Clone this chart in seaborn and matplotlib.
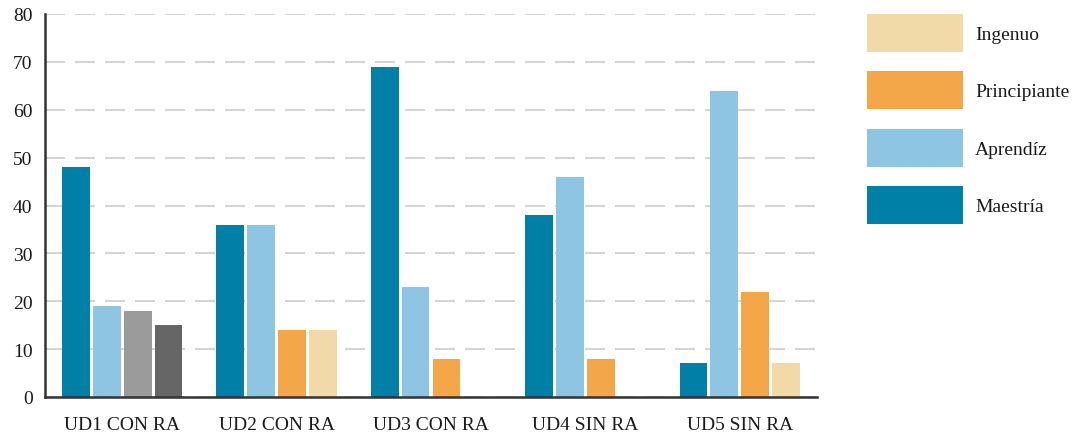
import pandas as pd
import matplotlib.pyplot as plt
import seaborn as sns
from matplotlib.patches import Patch

# Data
categories = ["UD1 CON RA", "UD2 CON RA", "UD3 CON RA", "UD4 SIN RA", "UD5 SIN RA"]
levels = ["Maestría", "Aprendíz", "Principiante", "Ingenuo"]
maestria = [48, 36, 69, 38, 7]
aprendiz = [19, 36, 23, 46, 64]
principiante = [18, 14, 8, 8, 22]
ingenuo = [15, 14, 0, 0, 7]

palette = {
    "Maestría": "#0080A6",
    "Aprendíz": "#8EC5E2",
    "Principiante": "#F4A748",
    "Ingenuo": "#F2DAA8",
}
# UD1 uses grey for the last two levels
ud1_overrides = {"Principiante": "#9B9B9B", "Ingenuo": "#666666"}


def main():
    rows = []
    for lvl, vals in zip(levels, [maestria, aprendiz, principiante, ingenuo]):
        for cat, v in zip(categories, vals):
            rows.append({"UD": cat, "Nivel": lvl, "Valor": v})
    df = pd.DataFrame(rows)

    sns.set_theme(style="white")
    plt.rcParams["font.family"] = ["Liberation Serif", "DejaVu Serif"]
    plt.rcParams["text.color"] = "#1a1a1a"

    fig = plt.figure(figsize=(10.82, 4.35), dpi=100)
    ax = fig.add_axes([45 / 1082, 37 / 435, (817 - 45) / 1082, (398 - 15) / 435])

    sns.barplot(data=df, x="UD", y="Valor", hue="Nivel", order=categories,
                hue_order=levels, palette=palette, width=0.8, gap=0.1,
                linewidth=0, saturation=1, legend=False, ax=ax)

    # recolor UD1 bars
    for i, lvl in enumerate(levels):
        if lvl in ud1_overrides:
            ax.containers[i][0].set_facecolor(ud1_overrides[lvl])

    ax.set_xlim(-0.5, len(categories) - 0.5)
    ax.set_ylim(0, 80)
    ax.set_yticks(range(0, 81, 10))
    ax.set_xlabel("")
    ax.set_ylabel("")

    ax.set_axisbelow(True)
    ax.yaxis.grid(True, color="#CCCCCC", linestyle=(0, (12, 6)), linewidth=1.2)
    ax.xaxis.grid(False)

    for s in ["top", "right"]:
        ax.spines[s].set_visible(False)
    for s in ["left", "bottom"]:
        ax.spines[s].set_color("#333333")
        ax.spines[s].set_linewidth(1.8)

    ax.tick_params(axis="y", length=0, pad=9, labelsize=14, labelcolor="#1a1a1a")
    ax.tick_params(axis="x", which="major", length=0, pad=14, labelsize=14,
                   labelcolor="#1a1a1a")
    ax.set_xticks([i + 0.5 for i in range(len(categories) - 1)], minor=True)
    ax.tick_params(axis="x", which="minor", direction="in", length=6, width=1.5,
                   color="#333333")

    handles = [Patch(facecolor=palette[l], edgecolor="none") for l in levels[::-1]]
    fig.legend(handles, levels[::-1], loc="upper left",
               bbox_to_anchor=(867 / 1082, 1 - 15 / 435), frameon=False,
               borderpad=0, borderaxespad=0, fontsize=14,
               handlelength=4.95, handleheight=2.63, labelspacing=1.0,
               handletextpad=0.6)

    fig.savefig("out.png", dpi=100)


if __name__ == "__main__":
    main()
